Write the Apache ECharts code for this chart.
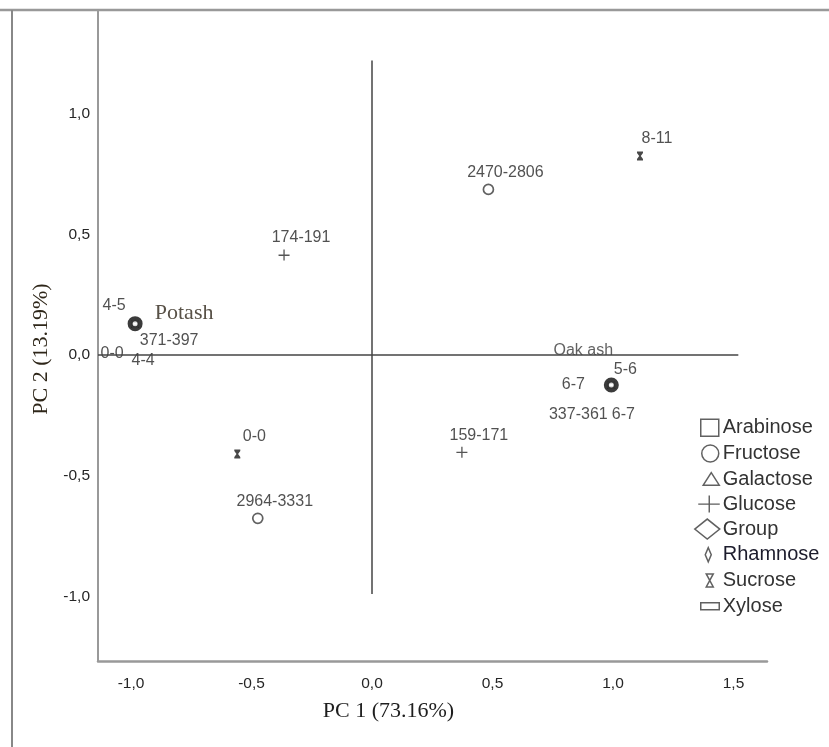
<!DOCTYPE html>
<html>
<head>
<meta charset="utf-8">
<script src="https://cdn.jsdelivr.net/npm/echarts@6/dist/echarts.min.js"></script>
<style>
  html, body { margin: 0; padding: 0; background: #fff; }
  #chart { width: 829px; height: 747px; }
</style>
</head>
<body>
<div id="chart"></div>
<script>
// axis extents and ticks (PC1 / PC2 scores)
const xMin = -1.137, xMax = 1.639;
const yMin = -1.267, yMax = 1.429;
const xTicks = [-1, -0.5, 0, 0.5, 1, 1.5];
const yTicks = [-1, -0.5, 0, 0.5, 1];

// group centroids
const groupNames = ['Potash', 'Oak ash'];
const groupX = [-0.983, 0.993];
const groupY = [0.13, -0.124];

// sugars
const fructoseX = [0.483, -0.474];
const fructoseY = [0.686, -0.676];
const fructoseLabels = ['2470-2806', '2964-3331'];

const glucoseX = [-0.365, 0.373];
const glucoseY = [0.414, -0.402];
const glucoseLabels = ['174-191', '159-171'];

const sucroseX = [1.112, -0.559];
const sucroseY = [0.824, -0.41];
const sucroseLabels = ['8-11', '0-0'];

// these sit on the group centroids
const arabinoseX = [-0.983, 0.993];
const arabinoseY = [0.13, -0.124];
const arabinoseLabels = ['4-5', '5-6'];

const galactoseX = [-0.983, 0.993];
const galactoseY = [0.13, -0.124];
const galactoseLabels = ['4-4', '6-7'];

const rhamnoseX = [-0.983, 0.993];
const rhamnoseY = [0.13, -0.124];
const rhamnoseLabels = ['0-0', '6-7'];

const xyloseX = [-0.983, 0.993];
const xyloseY = [0.13, -0.124];
const xyloseLabels = ['371-397', '337-361'];

// label placement (pixels from the marker)
const defShift = [17, -17];
const arabinoseShift = [[-21, -18], [14, -15]];
const galactoseShift = [[8, 37], [12, 30]];
const rhamnoseShift = [[-23, 30], [-38, 0]];
const xyloseShift = [[34, 17], [-33, 30]];

const sans = 'Arial, "Liberation Sans", sans-serif';
const serif = '"Times New Roman", "Liberation Serif", serif';
const fmt = v => v.toFixed(1).replace('.', ',');

function pts(xs, ys, labels, shifts) {
    return xs.map((x, i) => ({
        value: [x, ys[i]],
        label: { offset: shifts ? shifts[i] : defShift },
        name: labels[i]
    }));
}

const pointLabel = {
    show: true,
    position: 'inside',
    formatter: p => p.name,
    fontFamily: sans,
    fontSize: 16,
    color: '#262626'
};

// legend icons, drawn in a 26x22 box
const B = 'M0,0M26,22';
const icons = {
    Arabinose: B + 'M7,2.5H25V19.5H7Z',
    Fructose: B + 'M8,11a8.5,8.5 0 1,0 17,0a8.5,8.5 0 1,0 -17,0Z',
    Galactose: B + 'M9.5,17L17.5,4.5L25.5,17Z',
    Glucose: B + 'M4.5,10.3H14.8V2.5H16.2V10.3H26V11.7H16.2V19.5H14.8V11.7H4.5Z',
    Group: B + 'M1,11L13.5,1L26,11L13.5,21Z',
    Rhamnose: B + 'M11.5,11L14.5,4L17.5,11L14.5,18Z',
    Sucrose: B + 'M12.5,4.5H19.5L12.5,17.5H19.5Z',
    Xylose: B + 'M7,7.5H25.5V14.5H7Z'
};
const openStyle = { color: '#fff', borderColor: '#3a3a3a', borderWidth: 1.5 };
const legendData = Object.keys(icons).map(n => ({
    name: n,
    icon: 'path://' + icons[n],
    itemStyle: n === 'Glucose' ? { color: '#333', borderWidth: 0 } : openStyle,
    textStyle: n === 'Rhamnose' ? { color: '#1c1c2c' } : {}
}));

const chart = echarts.init(document.getElementById('chart'), null, { renderer: 'canvas' });

const option = {
    animation: false,
    backgroundColor: '#fff',
    grid: { left: 98, right: 62, top: 10, bottom: 86, containLabel: false },
    xAxis: {
        type: 'value',
        min: xMin, max: xMax,
        name: 'PC 1 (73.16%)',
        nameLocation: 'middle',
        nameGap: 39,
        nameTextStyle: { fontFamily: serif, fontSize: 22, color: '#1e1e1e', padding: [0, 88, 0, 0] },
        axisLine: { onZero: false, lineStyle: { color: '#999', width: 2.5 } },
        axisTick: { show: false },
        splitLine: { show: false },
        axisLabel: { customValues: xTicks, formatter: fmt, margin: 15, fontFamily: sans, fontSize: 15.5, color: '#262626' }
    },
    yAxis: {
        type: 'value',
        min: yMin, max: yMax,
        name: 'PC 2 (13.19%)',
        nameLocation: 'middle',
        nameGap: 41,
        nameTextStyle: { fontFamily: serif, fontSize: 22, color: '#2e2619', padding: [0, 27, 0, 0] },
        axisLine: { onZero: false, lineStyle: { color: '#999', width: 2 } },
        axisTick: { show: false },
        splitLine: { show: false },
        axisLabel: { customValues: yTicks, formatter: fmt, margin: 8, fontFamily: sans, fontSize: 15.5, color: '#262626', padding: [3, 0, 0, 0] }
    },
    legend: {
        orient: 'vertical',
        left: 693, top: 416,
        padding: 0,
        itemWidth: 26, itemHeight: 22, itemGap: 2.2,
        selectedMode: false,
        textStyle: { fontFamily: sans, fontSize: 20, lineHeight: 22, color: '#333', padding: [0, 0, 0, -2] },
        data: legendData
    },
    graphic: [
        { type: 'line', shape: { x1: 0, y1: 10, x2: 829, y2: 10 }, style: { stroke: '#999', lineWidth: 2.5 }, silent: true },
        { type: 'line', shape: { x1: 12, y1: 10, x2: 12, y2: 747 }, style: { stroke: '#888', lineWidth: 2 }, silent: true }
    ],
    series: [
        { name: 'Arabinose', type: 'scatter', z: 2, symbol: 'rect', symbolSize: 6,
          itemStyle: openStyle, label: pointLabel, data: pts(arabinoseX, arabinoseY, arabinoseLabels, arabinoseShift) },
        { name: 'Fructose', type: 'scatter', z: 2, symbol: 'circle', symbolSize: 10,
          itemStyle: { color: '#fff', borderColor: '#3a3a3a', borderWidth: 1.7 },
          label: pointLabel, data: pts(fructoseX, fructoseY, fructoseLabels) },
        { name: 'Galactose', type: 'scatter', z: 2, symbol: 'triangle', symbolSize: 6,
          itemStyle: openStyle, label: pointLabel, data: pts(galactoseX, galactoseY, galactoseLabels, galactoseShift) },
        { name: 'Glucose', type: 'scatter', z: 2,
          symbol: 'path://M0,5H11V6.3H0ZM4.85,0H6.15V11H4.85Z', symbolSize: 11,
          itemStyle: { color: '#2a2a2a' }, label: pointLabel, data: pts(glucoseX, glucoseY, glucoseLabels) },
        { name: 'Rhamnose', type: 'scatter', z: 2, symbol: 'diamond', symbolSize: [4, 6],
          itemStyle: openStyle, label: pointLabel, data: pts(rhamnoseX, rhamnoseY, rhamnoseLabels, rhamnoseShift) },
        { name: 'Sucrose', type: 'scatter', z: 2,
          symbol: 'path://M0,0H6V1.5L3.8,4.5L6,7.5V9H0V7.5L2.2,4.5L0,1.5Z', symbolSize: [6, 9],
          itemStyle: { color: '#1a1a1a' }, label: pointLabel, data: pts(sucroseX, sucroseY, sucroseLabels) },
        { name: 'Xylose', type: 'scatter', z: 2, symbol: 'rect', symbolSize: [6, 3],
          itemStyle: openStyle, label: pointLabel, data: pts(xyloseX, xyloseY, xyloseLabels, xyloseShift) },
        {
            name: 'Group', type: 'scatter', z: 4, symbol: 'circle', symbolSize: 10,
            itemStyle: { color: '#fff', borderColor: '#0a0a0a', borderWidth: 5 },
            data: groupNames.map((n, i) => ({
                name: n,
                value: [groupX[i], groupY[i]],
                label: i === 0
                    ? { show: true, position: 'inside', offset: [49, -10], formatter: '{b}', fontFamily: serif, fontSize: 22, color: '#2e2619' }
                    : { show: true, position: 'inside', offset: [-28, -34], formatter: '{b}', fontFamily: sans, fontSize: 16, color: '#3a3a3a' }
            })),
            markLine: {
                silent: true,
                symbol: 'none',
                label: { show: false },
                lineStyle: { color: '#444', width: 1.5, type: 'solid' },
                data: [
                    [{ coord: [0, 1.22] }, { coord: [0, -0.99] }],
                    [{ coord: [xMin, 0] }, { coord: [1.52, 0] }]
                ]
            }
        }
    ]
};

chart.setOption(option);
</script>
</body>
</html>
